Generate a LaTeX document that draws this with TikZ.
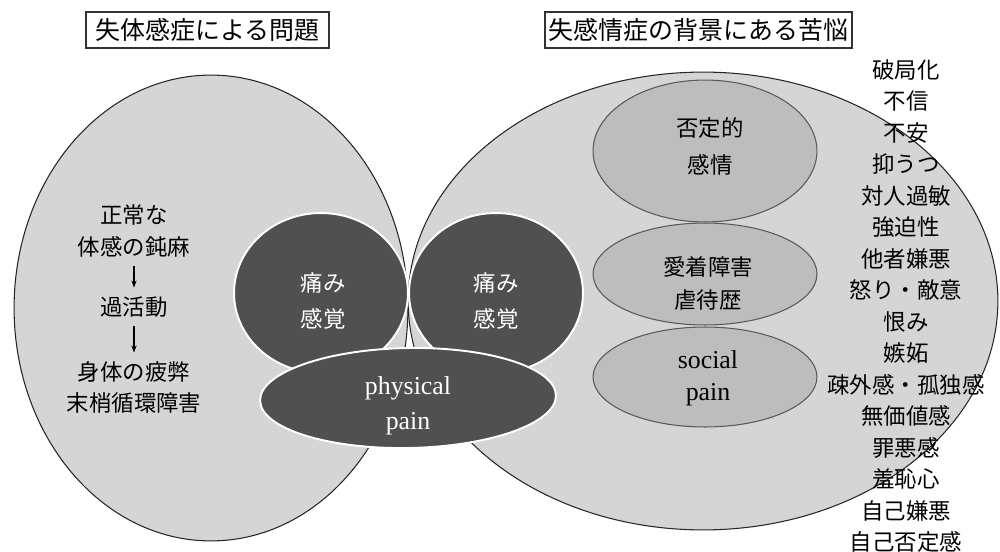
\documentclass[tikz,border=0pt]{standalone}
\usepackage{fontspec}
\setmainfont{Liberation Serif}
\newfontfamily\jp{Noto Sans CJK JP}
\usetikzlibrary{shapes.geometric,arrows.meta}
\definecolor{bigfill}{HTML}{D5D5D5}
\definecolor{midfill}{HTML}{BDBDBD}
\definecolor{darkfill}{HTML}{505050}
\begin{document}
\begin{tikzpicture}[x=0.02cm,y=-0.02cm,
  ell/.style n args={2}{ellipse, inner sep=0pt, outer sep=0pt, minimum width=#1*0.04cm, minimum height=#2*0.04cm},
  bigell/.style={fill=bigfill, draw=black!85, line width=0.6pt},
  midell/.style={fill=midfill, draw=black!65, line width=0.6pt},
  darkell/.style={fill=darkfill, draw=white, line width=1.1pt},
  jtxt/.style={inner sep=0pt, font=\jp\fontsize{12.76}{15}\selectfont},
  wtxt/.style={jtxt, text=white},
  ltxt/.style={inner sep=0pt, font=\fontsize{14.7}{17}\selectfont},
  title/.style={draw=black!80, line width=0.6pt, inner sep=0pt, minimum height=36*0.02cm, font=\jp\fontsize{14.2}{16}\selectfont},
  arr/.style={-{Stealth[length=4pt,width=3pt]}, line width=0.6pt, shorten <=5pt, shorten >=5pt}
]
\useasboundingbox (0,0) rectangle (1000,551);

% big ellipses
\node[bigell, ell={197}{233}] (L) at (211,308) {};
\node[bigell, ell={295}{229}] (R) at (703,301) {};

% inner right ellipses
\node[midell, ell={112}{71}] (s1) at (705,151) {};
\node[midell, ell={112}{51}] (s2) at (705,274) {};
\node[midell, ell={112}{50}] (s3) at (705,377) {};

% dark circles and physical pain
\node[darkell, ell={87}{80}] (c1) at (321,293) {};
\node[darkell, ell={87}{80}] (c2) at (496,293) {};
\node[darkell, ell={148}{50}, rotate=1] (pp) at (408,398) {};

% titles
\node[title, minimum width=243*0.02cm] (t1) at (207.5,30) {失体感症による問題};
\node[title, minimum width=307*0.02cm] (t2) at (698.5,30) {失感情症の背景にある苦悩};

% left list
\node[jtxt] (l1) at (134,215) {正常な};
\node[jtxt] (l2) at (134,247) {体感の鈍麻};
\node[jtxt] (l3) at (134,307) {過活動};
\node[jtxt] (l4) at (134,372) {身体の疲弊};
\node[jtxt] (l5) at (134,403) {末梢循環障害};
\draw[arr] (l2) -- (l3);
\draw[arr] (l3) -- (l4);

% dark circle texts
\node[wtxt] (c1a) at (323,283) {痛み};
\node[wtxt] (c1b) at (323,319) {感覚};
\node[wtxt] (c2a) at (496,283) {痛み};
\node[wtxt] (c2b) at (496,319) {感覚};
\node[ltxt, text=white] (ppa) at (408,388) {physical};
\node[ltxt, text=white] (ppb) at (408,424) {pain};

% inner ellipse texts
\node[jtxt] (s1a) at (710,128) {否定的};
\node[jtxt] (s1b) at (710,165) {感情};
\node[jtxt] (s2a) at (708,267) {愛着障害};
\node[jtxt] (s2b) at (708,300) {虐待歴};
\node[ltxt] (s3a) at (708,360) {social};
\node[ltxt] (s3b) at (708,395) {pain};

% right list
\foreach \t [count=\i] in {破局化,不信,不安,抑うつ,対人過敏,強迫性,他者嫌悪,怒り・敵意,恨み,嫉妬,疎外感・孤独感,無価値感,罪悪感,羞恥心,自己嫌悪,自己否定感}{
  \node[jtxt] (r\i) at (906,{70+31.47*(\i-1)}) {\t};
}
\end{tikzpicture}
\end{document}
